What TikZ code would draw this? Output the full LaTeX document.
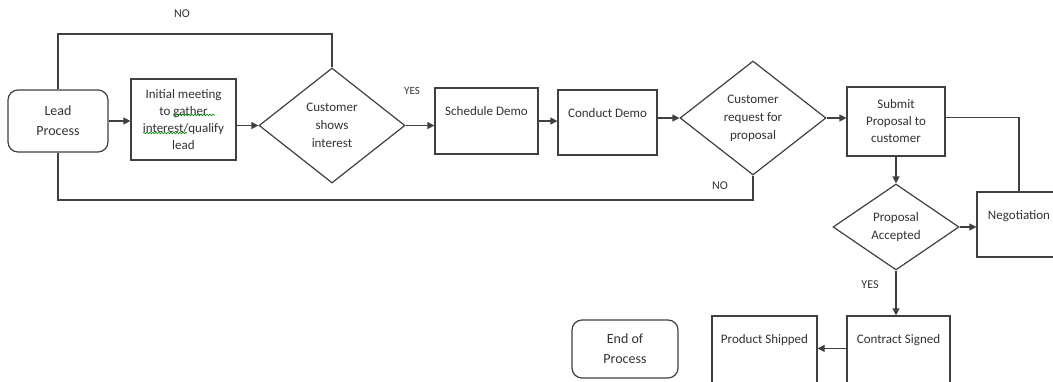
\documentclass[tikz,border=0pt]{standalone}
\usepackage{fontspec}
\setmainfont{Carlito}
\usetikzlibrary{shapes.geometric,arrows.meta,decorations.pathmorphing}
\definecolor{flowline}{HTML}{404040}
\definecolor{flowtext}{HTML}{333333}
\tikzset{
  box/.style={draw=flowline, line width=1.2pt, rectangle, align=center, inner sep=0pt,
    text=flowtext, font=\fontsize{13}{17}\selectfont},
  term/.style={box, rounded corners=10pt, font=\fontsize{14}{20}\selectfont},
  decision/.style={box, diamond, aspect=1, font=\fontsize{13}{18}\selectfont},
  toplabel/.style={anchor=north, yshift=-19, inner sep=0pt, text=flowtext,
    font=\fontsize{13}{17}\selectfont},
  arr/.style={draw=flowline, line width=1.2pt, -{Triangle[length=7pt,width=7pt]}},
  link/.style={draw=flowline, line width=1.2pt},
  answer/.style={text=flowtext, inner sep=0pt, font=\fontsize{12}{14}\selectfont},
  squiggle/.style={draw=green!55!black, line width=0.6pt, decorate,
    decoration={snake, amplitude=0.8pt, segment length=3pt}}
}
\begin{document}
\begin{tikzpicture}[x=1pt,y=1pt]
  \useasboundingbox (0,0) rectangle (1053,381);
  \clip (0,0) rectangle (1053,381);
  \fill[white] (0,0) rectangle (1053,381);
  % top row
  \node[term, minimum width=100, minimum height=62] (lead) at (58,260) {Lead\\Process};
  \node[box, minimum width=105, minimum height=81] (meet) at (183.5,261.5)
    {Initial meeting\\to gather\\interest/qualify\\lead};
  \node[decision, minimum width=146, minimum height=115] (interest) at (332,255.5)
    {Customer\\shows\\interest};
  \node[box, minimum width=103, minimum height=66,
    label={[toplabel]north:Schedule Demo}] (sched) at (486.5,260) {};
  \node[box, minimum width=99, minimum height=65,
    label={[toplabel]north:Conduct Demo}] (demo) at (607.5,258.5) {};
  \node[decision, minimum width=146, minimum height=114] (request) at (753,263)
    {Customer\\request for\\proposal};
  \node[box, minimum width=98, minimum height=69] (submit) at (896,259.5)
    {Submit\\Proposal to\\customer};
  % right column
  \node[decision, minimum width=126, minimum height=86] (accepted) at (896,154)
    {Proposal\\Accepted};
  \node[box, minimum width=84, minimum height=65,
    label={[toplabel]north:Negotiation}] (negot) at (1019,156.5) {};
  \node[box, minimum width=103, minimum height=84,
    label={[toplabel]north:Contract Signed}] (signed) at (898.5,23) {};
  \node[box, minimum width=105, minimum height=84,
    label={[toplabel]north:Product Shipped}] (shipped) at (764.5,23) {};
  \node[term, minimum width=106, minimum height=58] (endp) at (625,32) {End of\\Process};
  % answers
  \node[answer] (no1) at (182,367) {NO};
  \node[answer] (no2) at (720,195) {NO};
  \node[answer, font=\fontsize{11}{13}\selectfont] (yes1) at (412,290) {YES};
  \node[answer] (yes2) at (870,96) {YES};
  \coordinate (topno) at (182,347);
  \coordinate (botno) at (400,181);
  % connectors
  \draw[arr] (lead.east) -- (lead.east -| meet.west);
  \draw[arr] (meet.east |- interest.west) -- (interest.west);
  \draw[arr] (interest.east) -- (interest.east -| sched.west);
  \draw[arr] (sched.east) -- (sched.east -| demo.west);
  \draw[arr] (demo.east |- request.west) -- (request.west);
  \draw[arr] (request.east) -- (request.east -| submit.west);
  \draw[arr] (submit.south) -- (accepted.north);
  \draw[arr] (accepted.east) -- (accepted.east -| negot.west);
  \draw[link] (negot.north) |- ([yshift=4]submit.east);
  \draw[arr] (accepted.south) -- (accepted.south |- signed.north);
  \draw[arr] ([yshift=-33]signed.north west) -- ([yshift=-33]shipped.north east);
  \draw[link] (lead.north) |- (topno) -| (interest.north);
  \draw[link] (lead.south) |- (botno) -| (request.south);
  % spelling marks
  \draw[squiggle] ([xshift=-10.5,yshift=4.5]meet.center) -- ++(42,0);
  \draw[squiggle] ([xshift=-40.5,yshift=-13.5]meet.center) -- ++(44,0);
\end{tikzpicture}
\end{document}
